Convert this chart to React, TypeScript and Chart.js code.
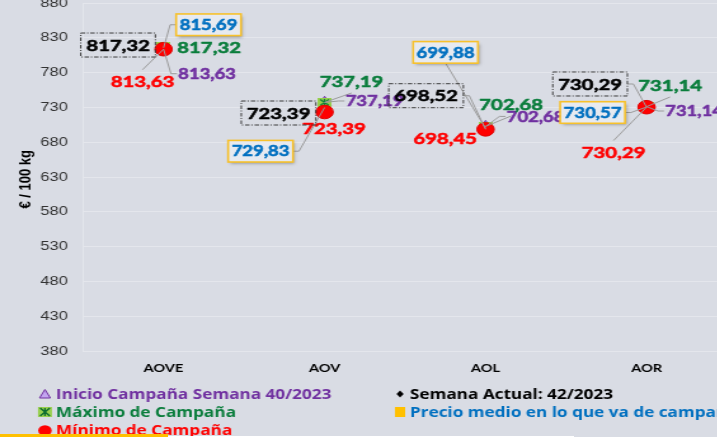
import React, { useEffect, useRef } from 'react';
import { Chart, registerables } from 'chart.js';

Chart.register(...registerables);

// ---------- data ----------
const categories = ['AOVE', 'AOV', 'AOL', 'AOR'];
const inicioCampana = [813.63, 737.19, 702.68, 731.14];
const semanaActual = [817.32, 723.39, 698.52, 730.29];
const maximoCampana = [817.32, 737.19, 702.68, 731.14];
const minimoCampana = [813.63, 723.39, 698.45, 730.29];
const precioMedio = [815.69, 729.83, 699.88, 730.57];
const yMin = 380;
const yMax = 880;
const yStep = 50;
const yAxisTitle = '€ / 100 kg';
const legendLabels = [
  'Inicio Campaña Semana 40/2023',
  'Semana Actual: 42/2023',
  'Máximo de Campaña',
  'Precio medio en lo que va de campaña',
  'Mínimo de Campaña',
];

// ---------- layout / style ----------
const S = 1.27; // horizontal stretch of the reference picture
const NW = 600;
const NH = 455;
const TOP = -17.3;
const BG = '#d9dce4';
const GRID = '#e4e6ec';
const LEADER = '#9c9c9c';
const STUB = 4.7;

const C_PURPLE = '#7030a0';
const C_GREEN = '#0a7d3c';
const C_RED = '#ff0000';
const C_BLUE = '#0070c0';
const C_BLACK = '#000000';

type Anchor = '' | 'L' | 'R' | 'T' | 'B';
interface LabelSpec {
  ds: number;
  values: number[];
  color: string;
  size: number;
  box: '' | 'dash' | 'gold';
  offsets: [number, number][];
  anchors: Anchor[];
}

// dataset indices: 0 min, 1 max, 2 medio, 3 actual, 4 inicio
const labelSpecs: LabelSpec[] = [
  { ds: 4, values: inicioCampana, color: C_PURPLE, size: 14.5, box: '',
    offsets: [[43.5, 24.5], [50, -1.4], [50, -10], [47.5, 4.4]], anchors: ['L', 'L', 'L', 'L'] },
  { ds: 1, values: maximoCampana, color: C_GREEN, size: 16, box: '',
    offsets: [[45.5, 0.5], [27, -21.4], [25.5, -22.4], [23.5, -21.6]], anchors: ['', 'B', 'B', 'B'] },
  { ds: 0, values: minimoCampana, color: C_RED, size: 16, box: '',
    offsets: [[-21, 32.5], [9.5, 16.3], [-40.5, 9.4], [-33, 45.3]], anchors: ['T', '', '', 'T'] },
  { ds: 3, values: semanaActual, color: C_BLACK, size: 16, box: 'dash',
    offsets: [[-45.5, -1.6], [-46, 1], [-59.5, -33.6], [-56.5, -23.2]], anchors: ['', '', 'R', 'R'] },
  { ds: 2, values: precioMedio, color: C_BLUE, size: 14.5, box: 'gold',
    offsets: [[45, -23], [-64, 43.7], [-40, -76], [-54, 5.5]], anchors: ['L', 'R', 'B', 'R'] },
];

const fmt = (v: number) => v.toFixed(2).replace('.', ',');

function makeStarImage(): HTMLCanvasElement {
  const c = document.createElement('canvas');
  c.width = 11;
  c.height = 9;
  const g = c.getContext('2d')!;
  g.fillStyle = '#98d04e';
  g.fillRect(0, 0, 11, 9);
  g.strokeStyle = '#0a7d3c';
  g.lineWidth = 1.2;
  g.beginPath();
  g.moveTo(5.5, 1); g.lineTo(5.5, 8);
  g.moveTo(2, 1.5); g.lineTo(9, 7.5);
  g.moveTo(9, 1.5); g.lineTo(2, 7.5);
  g.stroke();
  return c;
}

const bgPlugin = {
  id: 'bgFill',
  beforeDraw(chart: any) {
    const { ctx, width, height } = chart;
    ctx.save();
    ctx.fillStyle = BG;
    ctx.fillRect(0, 0, width, height);
    ctx.restore();
  },
};

const labelsPlugin = {
  id: 'pointLabels',
  afterDatasetsDraw(chart: any) {
    const ctx: CanvasRenderingContext2D = chart.ctx;
    const items: any[] = [];
    labelSpecs.forEach((spec) => {
      const meta = chart.getDatasetMeta(spec.ds);
      meta.data.forEach((pt: any, i: number) => {
        const text = fmt(spec.values[i]);
        ctx.font = `bold ${spec.size}px Lato`;
        const tw = ctx.measureText(text).width;
        const cx = pt.x + spec.offsets[i][0] / S;
        const cy = pt.y + spec.offsets[i][1];
        let hw = tw / 2 + 1;
        let hh = 12;
        if (spec.box === 'dash') { hw = tw / 2 + 4.3; hh = 12; }
        if (spec.box === 'gold') { hw = tw / 2 + 2.8; hh = 10.8; }
        items.push({ spec, text, cx, cy, hw, hh, px: pt.x, py: pt.y, anchor: spec.anchors[i] });
      });
    });
    // leader lines
    ctx.save();
    ctx.strokeStyle = LEADER;
    ctx.lineWidth = 1;
    items.forEach((it) => {
      if (!it.anchor) return;
      ctx.beginPath();
      if (it.anchor === 'L') {
        ctx.moveTo(it.cx - it.hw, it.cy);
        ctx.lineTo(it.cx - it.hw - STUB, it.cy);
      } else if (it.anchor === 'R') {
        ctx.moveTo(it.cx + it.hw, it.cy);
        ctx.lineTo(it.cx + it.hw + STUB, it.cy);
      } else if (it.anchor === 'T') {
        ctx.moveTo(it.cx, it.cy - it.hh);
      } else {
        ctx.moveTo(it.cx, it.cy + it.hh);
      }
      ctx.lineTo(it.px, it.py);
      ctx.stroke();
    });
    ctx.restore();
    // boxes and texts
    items.forEach((it) => {
      const { spec } = it;
      ctx.save();
      const x0 = it.cx - it.hw;
      const y0 = it.cy - it.hh;
      if (spec.box === 'dash') {
        ctx.setLineDash([3.5, 1.5, 1, 1.5]);
        ctx.strokeStyle = '#3a3a3a';
        ctx.lineWidth = 1;
        ctx.strokeRect(x0, y0, it.hw * 2, it.hh * 2);
        ctx.setLineDash([]);
      } else if (spec.box === 'gold') {
        ctx.save();
        ctx.shadowColor = 'rgba(0,0,0,0.35)';
        ctx.shadowBlur = 3;
        ctx.shadowOffsetX = 1.5;
        ctx.shadowOffsetY = 2;
        ctx.fillStyle = '#e7eaf0';
        ctx.fillRect(x0, y0, it.hw * 2, it.hh * 2);
        ctx.restore();
        ctx.strokeStyle = '#f7c12c';
        ctx.lineWidth = 1.6;
        ctx.strokeRect(x0, y0, it.hw * 2, it.hh * 2);
      }
      ctx.font = `bold ${spec.size}px Lato`;
      ctx.fillStyle = spec.color;
      ctx.strokeStyle = spec.color;
      ctx.lineWidth = 0.55;
      ctx.lineJoin = 'round';
      ctx.textAlign = 'center';
      ctx.textBaseline = 'middle';
      ctx.fillText(it.text, it.cx, it.cy + 0.5);
      ctx.strokeText(it.text, it.cx, it.cy + 0.5);
      ctx.restore();
    });
  },
};

// legend layout (native canvas units)
const LEG_MARK_X = [35.4, 315];
const LEG_TEXT_X = [44.1, 322.8];
const LEG_BASE_Y = [415.6, 433.6, 452.1];
const legendItems = [
  { col: 0, row: 0, text: legendLabels[0], color: C_PURPLE, marker: 'triangle' },
  { col: 1, row: 0, text: legendLabels[1], color: C_BLACK, marker: 'diamond' },
  { col: 0, row: 1, text: legendLabels[2], color: C_GREEN, marker: 'star' },
  { col: 1, row: 1, text: legendLabels[3], color: C_BLUE, marker: 'square' },
  { col: 0, row: 2, text: legendLabels[4], color: C_RED, marker: 'circle' },
];

function drawMarker(ctx: CanvasRenderingContext2D, kind: string, x: number, y: number) {
  ctx.save();
  if (kind === 'triangle') {
    ctx.beginPath();
    ctx.moveTo(x, y - 4.5);
    ctx.lineTo(x + 4.3, y + 4);
    ctx.lineTo(x - 4.3, y + 4);
    ctx.closePath();
    ctx.fillStyle = '#c3a6f0';
    ctx.fill();
    ctx.strokeStyle = C_PURPLE;
    ctx.lineWidth = 1;
    ctx.stroke();
  } else if (kind === 'star') {
    ctx.fillStyle = '#98d04e';
    ctx.fillRect(x - 5.5, y - 5, 11, 10);
    ctx.strokeStyle = '#0a6a30';
    ctx.lineWidth = 1.3;
    ctx.beginPath();
    ctx.moveTo(x, y - 4); ctx.lineTo(x, y + 4);
    ctx.moveTo(x - 3.8, y - 4); ctx.lineTo(x + 3.8, y + 4);
    ctx.moveTo(x + 3.8, y - 4); ctx.lineTo(x - 3.8, y + 4);
    ctx.stroke();
  } else if (kind === 'circle') {
    ctx.beginPath();
    ctx.arc(x, y, 5.3, 0, Math.PI * 2);
    ctx.fillStyle = C_RED;
    ctx.fill();
  } else if (kind === 'diamond') {
    ctx.beginPath();
    ctx.moveTo(x, y - 3.5);
    ctx.lineTo(x + 2.8, y);
    ctx.lineTo(x, y + 3.5);
    ctx.lineTo(x - 2.8, y);
    ctx.closePath();
    ctx.fillStyle = '#000';
    ctx.fill();
  } else if (kind === 'square') {
    ctx.fillStyle = '#ffc000';
    ctx.fillRect(x - 4, y - 5, 8, 10);
  }
  ctx.restore();
}

const legendPlugin = {
  id: 'customLegend',
  afterDraw(chart: any) {
    const ctx: CanvasRenderingContext2D = chart.ctx;
    // y axis title
    ctx.save();
    ctx.translate(20.5, 196.3);
    ctx.rotate(-Math.PI / 2);
    ctx.font = 'bold 13px "Liberation Sans"';
    ctx.fillStyle = '#000';
    ctx.textAlign = 'center';
    ctx.textBaseline = 'middle';
    ctx.fillText(yAxisTitle, 0, 0);
    ctx.restore();

    legendItems.forEach((it) => {
      const base = LEG_BASE_Y[it.row];
      drawMarker(ctx, it.marker, LEG_MARK_X[it.col], base - 4.6);
      ctx.save();
      ctx.font = 'bold 13.5px "Open Sans"';
      ctx.fillStyle = it.color;
      ctx.textAlign = 'left';
      ctx.textBaseline = 'alphabetic';
      ctx.fillText(it.text, LEG_TEXT_X[it.col], base);
      ctx.restore();
    });
  },
};

export default function App() {
  const canvasRef = useRef<HTMLCanvasElement>(null);

  useEffect(() => {
    const canvas = canvasRef.current;
    if (!canvas) return;
    const star = makeStarImage();
    const chart = new Chart(canvas, {
      type: 'line',
      data: {
        labels: categories,
        datasets: [
          { label: legendLabels[4], data: minimoCampana, showLine: false, pointStyle: 'circle',
            pointRadius: 6.8, pointBackgroundColor: '#ff0000', pointBorderColor: '#e00000', pointBorderWidth: 1 },
          { label: legendLabels[2], data: maximoCampana, showLine: false, pointStyle: star as any,
            pointRadius: 5 },
          { label: legendLabels[3], data: precioMedio, showLine: false, pointStyle: 'rect',
            pointRadius: 7, pointBackgroundColor: '#ffc000', pointBorderColor: '#ffc000', pointBorderWidth: 0 },
          { label: legendLabels[1], data: semanaActual, showLine: false, pointStyle: 'rectRot',
            pointRadius: 4, pointBackgroundColor: '#000', pointBorderColor: '#000' },
          { label: legendLabels[0], data: inicioCampana, showLine: false, pointStyle: 'triangle',
            pointRadius: 6, pointBackgroundColor: '#b99ae8', pointBorderColor: C_PURPLE, pointBorderWidth: 1 },
        ],
      },
      options: {
        responsive: false,
        animation: false,
        devicePixelRatio: 1,
        events: [],
        layout: { padding: { top: 20, bottom: 57, left: 0, right: NW - 572.5 } },
        plugins: { legend: { display: false }, tooltip: { enabled: false } },
        scales: {
          x: {
            offset: true,
            grid: { display: false, drawTicks: false },
            border: { display: false },
            ticks: { font: { family: 'Lato', weight: 'bold', size: 11.5 }, color: '#000', padding: 10 },
            afterFit: (s: any) => { s.height = 30; },
          },
          y: {
            min: yMin,
            max: yMax,
            ticks: { stepSize: yStep, font: { family: '"Liberation Sans"', size: 13 }, color: '#333', padding: 12 },
            grid: { color: GRID, lineWidth: 1, drawTicks: false },
            border: { display: true, color: GRID },
            afterFit: (s: any) => { s.width = 65.4; },
          },
        },
      },
      plugins: [bgPlugin, labelsPlugin, legendPlugin],
    } as any);
    return () => chart.destroy();
  }, []);

  return (
    <div style={{ position: 'fixed', left: 0, top: 0, width: 717, height: 437, overflow: 'hidden', background: BG }}>
      <div style={{ position: 'absolute', left: 0, top: TOP, transform: `scaleX(${S})`, transformOrigin: '0 0' }}>
        <canvas ref={canvasRef} width={NW} height={NH} style={{ display: 'block', width: NW, height: NH }} />
      </div>
      <div style={{ position: 'absolute', left: 0, top: 434, width: 168, height: 3, background: '#ffc000' }} />
      <div style={{ position: 'absolute', left: 168, top: 436, width: 406, height: 1, background: '#ffffff' }} />
    </div>
  );
}
